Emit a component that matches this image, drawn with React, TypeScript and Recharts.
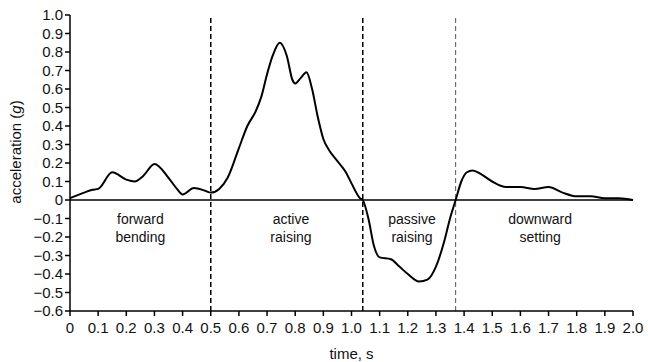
import { LineChart, Line, XAxis, YAxis, ReferenceLine, ReferenceDot } from 'recharts';

const times = [0, 0.05, 0.08, 0.1, 0.15, 0.2, 0.23, 0.26, 0.3, 0.35, 0.38, 0.4, 0.44, 0.48, 0.5, 0.53, 0.56, 0.6, 0.63, 0.66, 0.68, 0.7, 0.72, 0.745, 0.77, 0.79, 0.8, 0.82, 0.84, 0.86, 0.88, 0.9, 0.92, 0.95, 0.98, 1.0, 1.03, 1.04, 1.06, 1.08, 1.1, 1.14, 1.17, 1.2, 1.24, 1.27, 1.3, 1.33, 1.35, 1.37, 1.39, 1.41, 1.43, 1.46, 1.5, 1.55, 1.6, 1.65, 1.7, 1.75, 1.8, 1.85, 1.9, 1.95, 2.0];
const accel = [0.01, 0.04, 0.055, 0.06, 0.15, 0.11, 0.1, 0.13, 0.195, 0.12, 0.06, 0.03, 0.065, 0.05, 0.04, 0.06, 0.12, 0.28, 0.4, 0.48, 0.56, 0.68, 0.78, 0.85, 0.78, 0.65, 0.63, 0.66, 0.69, 0.6, 0.45, 0.33, 0.27, 0.21, 0.15, 0.09, 0.01, 0, -0.1, -0.25, -0.31, -0.32, -0.36, -0.4, -0.44, -0.43, -0.36, -0.22, -0.1, 0, 0.1, 0.15, 0.16, 0.14, 0.1, 0.07, 0.07, 0.06, 0.07, 0.04, 0.02, 0.02, 0.01, 0.01, 0];

const xTicks = [0, 0.1, 0.2, 0.3, 0.4, 0.5, 0.6, 0.7, 0.8, 0.9, 1.0, 1.1, 1.2, 1.3, 1.4, 1.5, 1.6, 1.7, 1.8, 1.9, 2.0];
const yTicks = [-0.6, -0.5, -0.4, -0.3, -0.2, -0.1, 0, 0.1, 0.2, 0.3, 0.4, 0.5, 0.6, 0.7, 0.8, 0.9, 1.0];

// phase boundaries (s)
const phaseBounds = [0.5, 1.04, 1.37];
const phaseNames = [
  { x: 0.25, lines: ['forward', 'bending'] },
  { x: 0.785, lines: ['active', 'raising'] },
  { x: 1.215, lines: ['passive', 'raising'] },
  { x: 1.67, lines: ['downward', 'setting'] },
];

const data = times.map((t, i) => ({ t, a: accel[i] }));

const font = '"Liberation Sans", Arial, sans-serif';

const fmt = (v: number) => {
  if (Math.abs(v) < 1e-9) return '0';
  const s = Math.abs(v).toFixed(1);
  return v < 0 ? '\u2212' + s : s;
};

const PhaseLabel = ({ viewBox, lines }: any) => {
  if (!viewBox) return null;
  const cx = viewBox.x + (viewBox.width || 0) / 2;
  const cy = viewBox.y + (viewBox.height || 0) / 2;
  return (
    <text x={cx} y={cy} textAnchor="middle" fontFamily={font} fontSize={14} fill="#111">
      <tspan x={cx} dy="0">{lines[0]}</tspan>
      <tspan x={cx} dy="18">{lines[1]}</tspan>
    </text>
  );
};

export default function App() {
  return (
    <div style={{ width: 648, height: 362, position: 'relative', background: '#fff' }}>
      <style>{`body{margin:0}`}</style>
      <LineChart width={648} height={362} data={data} margin={{ top: 15, right: 15, left: 20, bottom: 0 }}>
        <XAxis
          dataKey="t"
          type="number"
          domain={[0, 2]}
          ticks={xTicks}
          interval={0}
          tickFormatter={fmt}
          tickSize={5}
          tickMargin={6}
          height={51}
          stroke="#000"
          strokeWidth={1.5}
          tick={{ fontSize: 15, fill: '#111', fontFamily: font }}
          label={{ value: 'time, s', position: 'insideBottom', offset: 3, fontSize: 15, fill: '#111', fontFamily: font }}
        />
        <YAxis
          type="number"
          domain={[-0.6, 1.0]}
          ticks={yTicks}
          interval={0}
          tickFormatter={fmt}
          tickSize={5}
          tickMargin={2}
          width={50}
          stroke="#000"
          strokeWidth={1.5}
          tick={{ fontSize: 15, fill: '#111', fontFamily: font }}
          label={() => (
            <text
              x={17}
              y={152}
              transform={`rotate(-90, 17, 152)`}
              textAnchor="middle"
              dominantBaseline="middle"
              fontSize={15}
              fill="#111"
              fontFamily={font}
            >
              acceleration (<tspan fontStyle="italic">g</tspan>)
            </text>
          )}
        />
        <ReferenceLine y={0} stroke="#000" strokeWidth={1.5} />
        <ReferenceLine x={phaseBounds[0]} stroke="#000" strokeWidth={1.5} strokeDasharray="5 3" />
        <ReferenceLine x={phaseBounds[1]} stroke="#000" strokeWidth={1.5} strokeDasharray="5 3" />
        <ReferenceLine x={phaseBounds[2]} stroke="#555" strokeWidth={1} strokeDasharray="5 3" />
        {phaseNames.map((p) => (
          <ReferenceDot
            key={p.x}
            x={p.x}
            y={-0.13}
            r={0}
            fill="none"
            stroke="none"
            label={(props: any) => <PhaseLabel {...props} lines={p.lines} />}
          />
        ))}
        <Line
          type="monotone"
          dataKey="a"
          stroke="#000"
          strokeWidth={2}
          dot={false}
          isAnimationActive={false}
        />
      </LineChart>
    </div>
  );
}
